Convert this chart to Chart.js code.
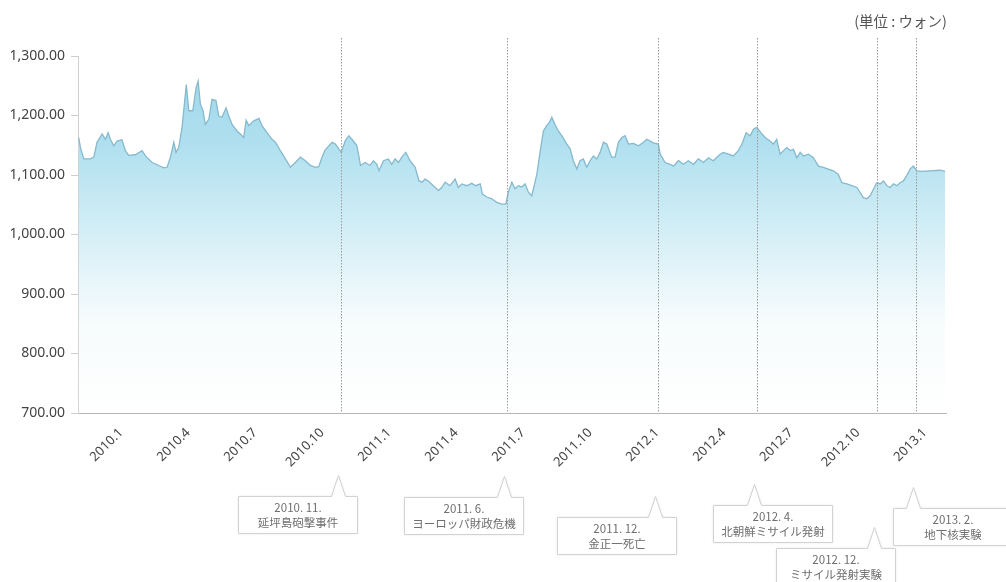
<!DOCTYPE html>
<html>
<head>
<meta charset="utf-8">
<title>ウォン相場の推移</title>
<script src="https://cdn.jsdelivr.net/npm/chart.js@4/dist/chart.umd.min.js"></script>
<style>
  html, body { margin: 0; padding: 0; background: #fff; }
  #wrap { width: 1006px; height: 582px; }
</style>
</head>
<body>
<div id="wrap"><canvas id="myChart" width="1006" height="582"></canvas></div>
<script>
// months counted from 2010.1 (0 = 2010.1, 12 = 2011.1 ...)
const months = [
  -1.72, -1.64, -1.49, -1.20, -1.04, -0.90, -0.67, -0.52, -0.40, -0.30, -0.15, 0.00, 0.22, 0.37, 0.52, 0.82,
  1.12, 1.27, 1.57, 1.87, 2.09, 2.24, 2.39, 2.54, 2.64, 2.76, 2.91, 3.10, 3.21, 3.39, 3.54, 3.63, 3.73, 3.85, 3.95,
  4.11, 4.25, 4.43, 4.55, 4.70, 4.88, 5.00, 5.15, 5.37, 5.52, 5.67, 5.78, 5.90, 6.12, 6.35, 6.49, 6.72, 6.94,
  7.09, 7.31, 7.54, 7.76, 7.98, 8.21, 8.43, 8.66, 8.88, 9.03, 9.15, 9.30, 9.48, 9.63, 9.78, 9.93,
  10.04, 10.22, 10.38, 10.56, 10.73, 10.81, 10.90, 11.11, 11.33, 11.48, 11.63, 11.73, 11.93,
  12.15, 12.30, 12.45, 12.60, 12.75, 12.93, 13.12, 13.35, 13.52, 13.65, 13.79, 13.94, 14.16, 14.39, 14.54, 14.69, 14.91,
  15.14, 15.28, 15.44, 15.66, 15.88, 16.06, 16.26, 16.36, 16.56, 16.78, 17.00, 17.23, 17.41, 17.52, 17.68, 17.82, 17.97,
  18.12, 18.27, 18.42, 18.57, 18.80, 18.94, 19.09, 19.24, 19.35, 19.47, 19.61, 19.76, 19.91,
  20.14, 20.29, 20.43, 20.59, 20.73, 20.88, 21.03, 21.18, 21.33, 21.48, 21.63, 21.78, 21.93,
  22.15, 22.30, 22.45, 22.60, 22.75, 22.90, 23.12, 23.35, 23.57, 23.72, 24.02, 24.24, 24.32, 24.54, 24.77, 24.91,
  25.14, 25.36, 25.58, 25.81, 26.03, 26.26, 26.48, 26.70, 27.00, 27.15, 27.38, 27.60, 27.82, 27.98,
  28.17, 28.35, 28.50, 28.65, 28.83, 29.02, 29.24, 29.39, 29.54, 29.69, 29.84, 29.99,
  30.14, 30.29, 30.44, 30.59, 30.73, 30.96, 31.18, 31.41, 31.63, 31.85, 32.08, 32.30, 32.45, 32.68, 32.90,
  33.13, 33.27, 33.42, 33.57, 33.72, 33.87, 34.02, 34.17, 34.32, 34.47, 34.62, 34.77, 34.92,
  35.06, 35.21, 35.36, 35.51, 35.66, 35.81, 36.04, 36.41, 36.86, 37.08
];

// ウォン/ドル
const rates = [
  1163, 1146, 1127, 1127, 1130, 1155, 1169, 1160, 1171, 1160, 1149, 1157, 1159, 1141, 1133, 1134,
  1141, 1132, 1121, 1116, 1112, 1113, 1130, 1155, 1138, 1146, 1180, 1252, 1208, 1208, 1247, 1258, 1219, 1208, 1185,
  1194, 1227, 1225, 1199, 1197, 1213, 1199, 1185, 1174, 1169, 1163, 1192, 1183, 1191, 1195, 1183, 1171, 1160,
  1155, 1141, 1127, 1113, 1121, 1130, 1124, 1116, 1113, 1114, 1127, 1141, 1149, 1155, 1152, 1144,
  1138, 1158, 1166, 1158, 1150, 1135, 1116, 1121, 1116, 1124, 1118, 1107, 1124,
  1127, 1118, 1127, 1121, 1130, 1138, 1124, 1113, 1090, 1088, 1093, 1090, 1082, 1074, 1079, 1088, 1082,
  1093, 1079, 1085, 1082, 1086, 1082, 1085, 1068, 1063, 1060, 1054, 1051, 1051, 1071, 1088, 1077, 1082,
  1080, 1085, 1071, 1065, 1102, 1138, 1174, 1183, 1188, 1197, 1185, 1174, 1166,
  1152, 1144, 1124, 1110, 1124, 1127, 1113, 1124, 1132, 1127, 1138, 1155, 1152,
  1130, 1130, 1155, 1163, 1166, 1152, 1153, 1149, 1155, 1160, 1154, 1152, 1135, 1121, 1118, 1115,
  1124, 1118, 1124, 1118, 1127, 1121, 1129, 1124, 1135, 1138, 1135, 1132, 1141, 1152,
  1171, 1166, 1177, 1180, 1171, 1163, 1157, 1152, 1160, 1135, 1141, 1146,
  1141, 1143, 1129, 1138, 1132, 1135, 1129, 1115, 1113, 1110, 1107, 1101, 1087, 1085, 1082,
  1079, 1071, 1062, 1060, 1065, 1076, 1087, 1085, 1090, 1082, 1079, 1085, 1082,
  1087, 1090, 1099, 1110, 1115, 1107, 1106, 1107, 1108, 1106
];

const tickMonths = [0, 3, 6, 9, 12, 15, 18, 21, 24, 27, 30, 33, 36];
const tickLabels = ['2010.1', '2010.4', '2010.7', '2010.10', '2011.1', '2011.4', '2011.7', '2011.10',
  '2012.1', '2012.4', '2012.7', '2012.10', '2013.1'];

// events marked on the chart
const eventMonths = [10.04, 17.45, 24.24, 28.65, 34.05, 35.78];
const eventDates = ['2010. 11.', '2011. 6.', '2011. 12.', '2012. 4.', '2012. 12.', '2013. 2.'];
const eventNames = ['延坪島砲撃事件', 'ヨーロッパ財政危機', '金正一死亡', '北朝鮮ミサイル発射', 'ミサイル発射実験', '地下核実験'];

// callout box placement: dx = box centre relative to the event line, top = box top
const calloutPos = [
  { dx: -44, top: 496 },
  { dx: -43, top: 497 },
  { dx: -42, top: 517 },
  { dx: 16, top: 505 },
  { dx: -42, top: 548 },
  { dx: 36, top: 508 }
];

const points = months.map((m, i) => ({ x: m, y: rates[i] }));

const jpFont = '"Noto Sans CJK JP", "Noto Sans", sans-serif';

// dotted event lines + speech-bubble labels under the axis
const eventPlugin = {
  id: 'eventMarks',
  afterDatasetsDraw(chart) {
    const ctx = chart.ctx;
    const xs = chart.scales.x;
    const area = chart.chartArea;
    ctx.save();
    ctx.strokeStyle = '#9a9a9a';
    ctx.lineWidth = 1;
    ctx.setLineDash([1.5, 1.5]);
    eventMonths.forEach(m => {
      const x = Math.round(xs.getPixelForValue(m)) + 0.5;
      ctx.beginPath();
      ctx.moveTo(x, area.top - 18);
      ctx.lineTo(x, area.bottom);
      ctx.stroke();
    });
    ctx.restore();
  },
  afterDraw(chart) {
    const ctx = chart.ctx;
    const xs = chart.scales.x;
    const w = 119, h = 37, tip = 21;
    ctx.save();
    eventMonths.forEach((m, i) => {
      const lx = xs.getPixelForValue(m);
      const p = calloutPos[i];
      const left = Math.round(lx + p.dx - w / 2) + 0.5;
      const top = p.top + 0.5;
      const ax = Math.round(lx) - 2.5;
      ctx.beginPath();
      ctx.moveTo(left, top);
      ctx.lineTo(ax - 7, top);
      ctx.lineTo(ax, top - tip);
      ctx.lineTo(ax + 7, top);
      ctx.lineTo(left + w, top);
      ctx.lineTo(left + w, top + h);
      ctx.lineTo(left, top + h);
      ctx.closePath();
      ctx.shadowColor = 'rgba(0,0,0,0.12)';
      ctx.shadowBlur = 3;
      ctx.fillStyle = '#fff';
      ctx.fill();
      ctx.shadowColor = 'transparent';
      ctx.strokeStyle = '#d2d2d2';
      ctx.lineWidth = 1;
      ctx.stroke();

      ctx.fillStyle = '#6e6e6e';
      ctx.font = '11.5px ' + jpFont;
      ctx.textAlign = 'center';
      ctx.textBaseline = 'middle';
      const cx = left + w / 2;
      ctx.fillText(eventDates[i], cx, top + 11);
      ctx.fillText(eventNames[i], cx, top + 26);
    });

    // unit label
    ctx.fillStyle = '#555';
    ctx.font = '14.5px ' + jpFont;
    ctx.textAlign = 'right';
    ctx.textBaseline = 'middle';
    ctx.fillText('(単位 : ウォン)', 947, 21);
    ctx.restore();
  }
};

const config = {
  type: 'line',
  data: {
    datasets: [{
      label: 'ウォン/ドル',
      data: points,
      borderColor: '#86b9ce',
      borderWidth: 1.3,
      pointRadius: 0,
      tension: 0,
      fill: 'start',
      backgroundColor(context) {
        const area = context.chart.chartArea;
        if (!area) return 'rgba(170,220,236,0.6)';
        const g = context.chart.ctx.createLinearGradient(0, area.top, 0, area.bottom);
        g.addColorStop(0.0, 'rgb(156,214,233)');
        g.addColorStop(0.25, 'rgb(176,224,239)');
        g.addColorStop(0.52, 'rgb(216,240,247)');
        g.addColorStop(0.75, 'rgb(247,252,253)');
        g.addColorStop(1, 'rgb(255,255,255)');
        return g;
      }
    }]
  },
  options: {
    responsive: false,
    animation: false,
    layout: { padding: { top: 56, right: 60, left: 0, bottom: 0 } },
    plugins: {
      legend: { display: false },
      tooltip: { enabled: false }
    },
    scales: {
      x: {
        type: 'linear',
        min: -1.75,
        max: 37.12,
        afterBuildTicks(scale) {
          scale.ticks = tickMonths.map(v => ({ value: v }));
        },
        afterFit(scale) { scale.height = 169; },
        grid: { display: false, drawTicks: false },
        border: { display: true, color: '#b5b5b5', width: 1, dash: [1.5, 1.5] },
        ticks: {
          autoSkip: false,
          minRotation: 45,
          maxRotation: 45,
          padding: 12,
          labelOffset: 4,
          color: '#444',
          font: { family: 'Noto Sans', size: 13 },
          callback(value) {
            const i = tickMonths.indexOf(value);
            return i >= 0 ? tickLabels[i] : '';
          }
        }
      },
      y: {
        min: 700,
        max: 1300,
        afterFit(scale) { scale.width = 78; },
        grid: { drawOnChartArea: false, drawTicks: true, tickLength: 7, color: '#cfcfcf' },
        border: { display: true, color: '#d0d0d0', width: 1 },
        ticks: {
          stepSize: 100,
          padding: 6,
          color: '#444',
          font: { family: 'Noto Sans', size: 14 },
          callback(value) {
            return value.toLocaleString('en-US', { minimumFractionDigits: 2, maximumFractionDigits: 2 });
          }
        }
      }
    }
  },
  plugins: [eventPlugin]
};

const myChart = new Chart(document.getElementById('myChart'), config);
</script>
</body>
</html>
